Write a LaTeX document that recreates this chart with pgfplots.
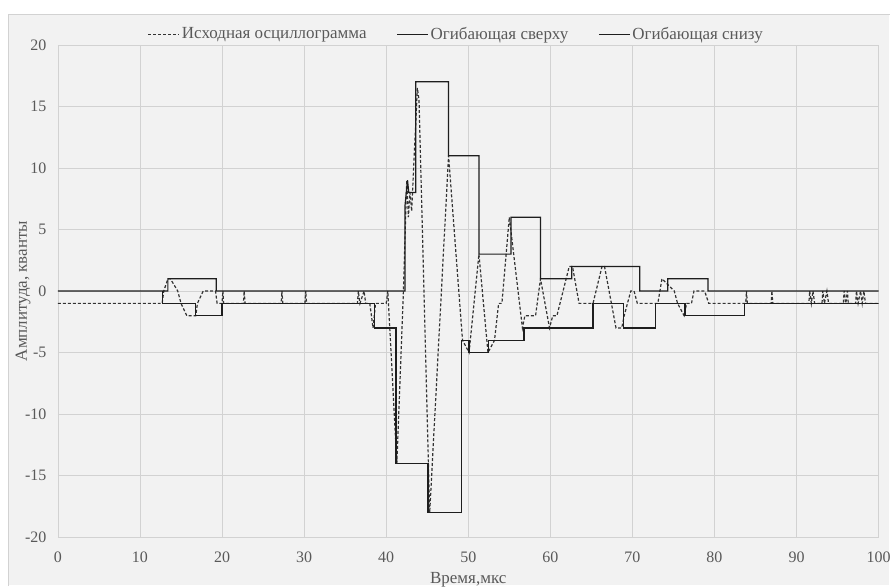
\documentclass[border=0pt]{standalone}
\usepackage{pgfplots}
\pgfplotsset{compat=1.18}
\usepackage{fontspec}
\setmainfont{Liberation Serif}
\definecolor{bg}{HTML}{F2F2F2}
\definecolor{gridc}{HTML}{D2D2D2}
\definecolor{txt}{HTML}{595959}
\definecolor{ln}{HTML}{1E1E1E}
\definecolor{sig}{HTML}{333333}
\begin{document}
\fontsize{16}{19}\selectfont
\begin{tikzpicture}[x=1pt,y=1pt]
\fill[white] (0,0) rectangle (890,586);
\fill[bg] (8,0) rectangle (890,572);
\draw[gridc, line width=0.8pt] (8,-1) -- (8,572) -- (891,572);
\useasboundingbox (0,0) rectangle (890,586);
\begin{axis}[
  at={(58pt,48pt)}, anchor=south west,
  width=822pt, height=493pt, scale only axis,
  xmin=0, xmax=100, ymin=-20, ymax=20,
  xtick={0,10,...,100}, ytick={-20,-15,...,20},
  grid=major, major grid style={draw=gridc, line width=0.8pt},
  axis line style={draw=none}, tick style={draw=none},
  axis background/.style={fill=bg},
  ticklabel style={text=txt, font=\fontsize{16}{19}\selectfont},
  /pgf/number format/assume math mode=true,
  yticklabel style={xshift=-6pt},
  xticklabel style={yshift=-9pt},
  xlabel={Время,мкс}, ylabel={Амплитуда, кванты},
  label style={text=txt, font=\fontsize{17}{20}\selectfont},
  xlabel style={at={(axis description cs:0.5,0)}, anchor=north, yshift=-30pt},
  ylabel style={at={(axis description cs:0,0.5)}, anchor=south, yshift=22pt},
  legend columns=3,
  legend style={at={(axis description cs:0.5,1)}, anchor=south, yshift=-1pt, xshift=-12pt,
    draw=none, fill=none, font=\fontsize{17}{20}\selectfont, text=txt,
    /tikz/every even column/.append style={column sep=28pt}},
  legend image code/.code={\draw[#1] (0pt,0pt) -- (31pt,0pt);},
]
\addplot[sig, line width=1.2pt, dash pattern=on 3pt off 2pt] coordinates {
(0,-1) (12.7,-1) (12.9,0) (13.4,1) (13.7,1) (14.6,0) (15.0,-1) (15.7,-2) (16.8,-2)
(17.0,-1) (17.7,0) (19.2,0) (19.4,-1) (20.0,-1) (20.1,0) (20.2,-1) (22.6,-1) (22.7,0)
(22.8,-1) (27.2,-1) (27.3,0) (27.4,-1) (30.1,-1) (30.2,0) (30.3,-1) (36.5,-1) (36.6,0)
(36.8,-1) (37.3,0) (37.5,-1) (38.0,-1) (38.4,-3) (38.7,-1) (40.0,-1) (40.2,0)
(41.3,-14) (42.1,0) (42.5,9) (42.7,6) (42.9,8) (43.1,6.5) (43.8,16.5) (44.0,15.5)
(45.3,-18) (47.6,11) (49.3,-4) (50.1,-5) (51.3,3) (52.4,-5) (53.2,-4) (53.7,-1)
(54.1,-1) (55.0,6) (56.6,-3) (56.9,-2) (58.2,-2) (58.8,1) (59.9,-3) (60.3,-2)
(60.8,-2) (62.3,2) (62.7,2) (63.5,-1) (65.2,-1) (66.3,2) (66.6,2) (68.0,-3) (68.7,-3)
(69.0,-2) (69.8,0) (70.2,0) (70.6,-1) (73.1,-1) (73.6,1) (75.1,0) (75.5,-1) (76.3,-2)
(76.6,-1) (77.2,-1) (77.5,0) (78.8,0) (79.3,-1) (83.8,-1) (83.9,0) (84.0,-1) (86.9,-1)
(87.0,0) (87.1,-1) (91.5,-1) (91.6,0) (91.8,-1) (92.0,0) (92.2,-1) (93.1,-1) (93.2,0)
(93.4,-1) (93.7,0) (93.9,-1) (95.7,-1) (95.8,0) (96.0,-1) (96.2,0) (96.3,-1) (97.2,-1)
(97.3,0) (97.5,-1) (97.8,0) (98.0,-1) (98.2,0) (98.4,-1) (100,-1)
};
\addlegendentry{Исходная осциллограмма}
\addplot[ln, line width=1.2pt] coordinates {
(0,0) (13.4,0) (13.4,1) (19.3,1) (19.3,0) (42.3,0) (42.3,7) (42.6,9) (42.75,8)
(43.6,8) (43.6,17) (47.6,17) (47.6,11) (51.3,11) (51.3,3) (55.2,3) (55.2,6) (58.8,6)
(58.8,1) (62.6,1) (62.6,2) (70.9,2) (70.9,0) (74.3,0) (74.3,1) (79.2,1) (79.2,0) (100,0)
};
\addlegendentry{Огибающая сверху}
\addplot[ln, line width=1.2pt] coordinates {
(12.7,0) (12.7,-1) (16.8,-1) (16.8,-2) (20.0,-2) (20.0,-1) (38.6,-1) (38.6,-3)
(41.2,-3) (41.2,-14) (45.1,-14) (45.1,-18) (49.2,-18) (49.2,-4) (50.1,-4) (50.1,-5)
(52.5,-5) (52.5,-4) (56.8,-4) (56.8,-3) (65.2,-3) (65.2,-1) (68.9,-1) (68.9,-3)
(72.8,-3) (72.8,-1) (76.4,-1) (76.4,-2) (83.7,-2) (83.7,-1) (100,-1)
};
\addlegendentry{Огибающая снизу}
\end{axis}
\end{tikzpicture}
\end{document}
